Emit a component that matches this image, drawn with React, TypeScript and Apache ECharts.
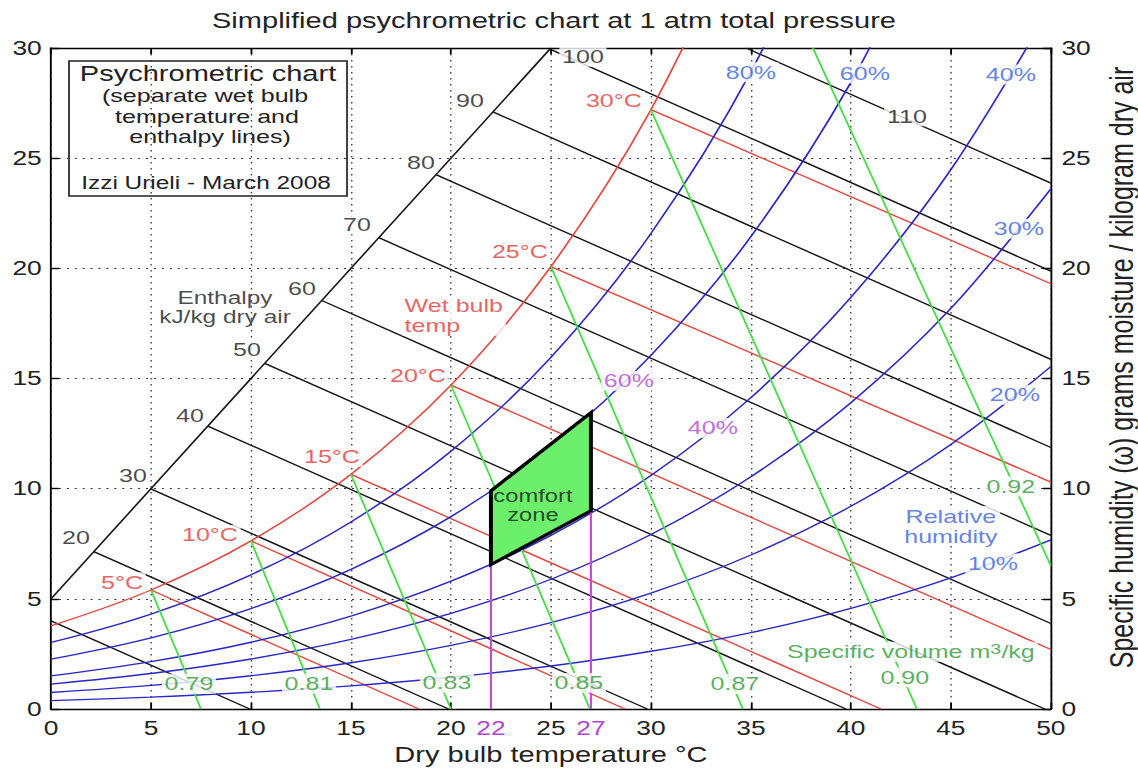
import React, { useEffect, useRef } from "react";
import * as echarts from "echarts";

// The reference image is horizontally stretched; we draw in unstretched space and scale X.
const STRETCH = 1.32;
const PAGE_W = 1138;
const PAGE_H = 769;
const FONT = "'Liberation Sans', Arial, Helvetica, sans-serif";

// ---------- DATA ----------
const dryBulb = [0, 5, 10, 15, 20, 25, 30, 35, 40, 45, 50];

// saturation (100 % RH) curve, g/kg
const saturation = [3.77, 5.4, 7.63, 10.65, 14.7, 20.08, 27.2, 36.58];
// relative humidity curves, g/kg
const rh80 = [3.02, 4.31, 6.09, 8.49, 11.7, 15.96, 21.58, 28.92, 38.5];
const rh60 = [2.26, 3.23, 4.56, 6.34, 8.73, 11.89, 16.05, 21.44, 28.44, 37.46];
const rh40 = [1.5, 2.15, 3.03, 4.22, 5.8, 7.88, 10.6, 14.13, 18.68, 24.48, 31.88];
const rh30 = [1.13, 1.61, 2.27, 3.16, 4.34, 5.89, 7.92, 10.54, 13.9, 18.18, 23.61];
const rh20 = [0.75, 1.07, 1.51, 2.1, 2.89, 3.92, 5.26, 6.99, 9.2, 12.01, 15.54];
const rh10 = [0.38, 0.54, 0.76, 1.05, 1.44, 1.95, 2.62, 3.47, 4.57, 5.95, 7.68];

// wet bulb lines (start on saturation, end on the frame)
const wetBulb5 = [[5, 5.4], [18.4, 0]];
const wetBulb10 = [[10, 7.63], [28.7, 0]];
const wetBulb15 = [[15, 10.65], [41.5, 0]];
const wetBulb20 = [[20, 14.7], [50, 2.7]];
const wetBulb25 = [[25, 20.08], [50, 10.3]];
const wetBulb30 = [[30, 27.2], [50, 19.3]];

// enthalpy lines kJ/kg
const enthalpyBase = [[0, 5], [25, 30]];
const enthalpy10 = [[0, 4.0], [9.94, 0]];
const enthalpy20 = [[2.14, 7.14], [19.88, 0]];
const enthalpy30 = [[4.99, 9.99], [29.82, 0]];
const enthalpy40 = [[7.84, 12.84], [39.76, 0]];
const enthalpy50 = [[10.69, 15.69], [49.7, 0]];
const enthalpy60 = [[13.54, 18.54], [50, 3.88]];
const enthalpy70 = [[16.39, 21.39], [50, 7.88]];
const enthalpy80 = [[19.25, 24.25], [50, 11.87]];
const enthalpy90 = [[22.1, 27.1], [50, 15.87]];
const enthalpy100 = [[24.95, 29.95], [50, 19.87]];
const enthalpy110 = [[34.76, 30], [50, 23.87]];

// specific volume lines m3/kg
const volume079 = [[5, 5.4], [7.5, 0]];
const volume081 = [[10, 7.63], [13.45, 0]];
const volume083 = [[15, 10.65], [20.0, 0]];
const volume085 = [[20, 14.7], [26.95, 0]];
const volume087 = [[25, 20.08], [34.6, 0]];
const volume090 = [[30, 27.2], [43.3, 0]];
const volume092 = [[38.1, 30], [50, 6.5]];

// comfort zone 22-27 C, 40-60 % RH
const comfortZone = [[22, 6.55], [22, 9.9], [27, 13.45], [27, 9.0]];
const comfortLeft = [[22, 0], [22, 6.55]];
const comfortRight = [[27, 0], [27, 9.0]];
const comfortTicks = [22, 27];

// text annotations: [dry bulb, humidity, text]
const enthalpyLabels: [number, number, string][] = [
  [1.25, 7.8, "20"], [4.1, 10.6, "30"], [6.95, 13.3, "40"], [9.8, 16.3, "50"],
  [12.55, 19.1, "60"], [15.3, 22.0, "70"], [18.5, 24.8, "80"], [20.95, 27.6, "90"],
  [26.6, 29.6, "100"], [42.8, 26.9, "110"],
];
const enthalpyTitle: [number, number, string][] = [[8.7, 18.25, "Enthalpy\nkJ/kg dry air"]];
const wetBulbLabels: [number, number, string][] = [
  [3.55, 5.75, "5°C"], [7.95, 7.9, "10°C"], [14.05, 11.45, "15°C"],
  [18.35, 15.15, "20°C"], [23.45, 20.75, "25°C"], [28.15, 27.6, "30°C"],
];
const wetBulbTitle: [number, number, string][] = [[17.55, 17.85, "Wet bulb\ntemp"]];
const volumeLabels: [number, number, string][] = [
  [6.9, 1.15, "0.79"], [12.9, 1.15, "0.81"], [19.8, 1.18, "0.83"], [26.4, 1.18, "0.85"],
  [34.2, 1.14, "0.87"], [42.7, 1.44, "0.90"], [48.0, 10.1, "0.92"],
];
const volumeTitle: [number, number, string][] = [[43.0, 2.6, "Specific volume m{sup|3}/kg"]];
const humidityLabels: [number, number, string][] = [
  [35.0, 28.9, "80%"], [40.7, 28.85, "60%"], [48.0, 28.8, "40%"], [48.4, 21.8, "30%"],
  [48.2, 14.26, "20%"], [47.1, 6.6, "10%"], [45.0, 8.3, "Relative\nhumidity"],
];
const comfortLabels: [number, number, string][] = [[28.9, 14.9, "60%"], [33.1, 12.75, "40%"]];
const comfortTitle: [number, number, string][] = [[24.1, 9.25, "comfort\nzone"]];

// ---------- STYLE ----------
const C_BLACK = "#151515";
const C_RED = "#e6443c";
const C_RED_TXT = "#e23a36";
const C_BLUE = "#2828c8";
const C_BLUE_TXT = "#3a62e0";
const C_GREEN = "#44dd44";
const C_GREEN_TXT = "#2f9a34";
const C_MAG = "#cc44e0";
const C_MAG_TXT = "#b146d4";

const zip = (ys: number[]) => ys.map((y, i) => [dryBulb[i], y]);

function line(data: number[][], color: string, width = 1.35, smooth = false, z = 2) {
  return {
    type: "line",
    data,
    xAxisIndex: 0,
    yAxisIndex: 0,
    symbol: "none",
    smooth: smooth ? 0.35 : false,
    clip: true,
    silent: true,
    z,
    lineStyle: { color, width },
  };
}

function labels(items: [number, number, string][], color: string, fontSize: number, opts: any = {}) {
  const { bg = true, align = "center", rich } = opts;
  return {
    type: "scatter",
    xAxisIndex: 0,
    yAxisIndex: 0,
    symbolSize: 1,
    silent: true,
    z: 20,
    itemStyle: { color: "rgba(0,0,0,0)" },
    data: items.map(([x, y, t]) => ({ value: [x, y], name: t })),
    label: {
      show: true,
      position: "inside",
      formatter: "{b}",
      color,
      fontSize,
      fontFamily: FONT,
      align,
      verticalAlign: "middle",
      lineHeight: fontSize + 1,
      backgroundColor: bg ? "#ffffff" : "transparent",
      padding: bg ? [0, 2, 0, 2] : 0,
      rich,
    },
  };
}

const axisLineStyle = { color: "#000", width: 1.4 };
const gridLineStyle = { color: "#333", width: 1, type: [1.5, 4.5] };

export default function App() {
  const ref = useRef<HTMLDivElement>(null);

  useEffect(() => {
    if (!ref.current) return;
    document.documentElement.style.overflow = "hidden";
    document.body.style.margin = "0";
    document.body.style.overflow = "hidden";
    const chart = echarts.init(ref.current, undefined, { renderer: "svg" });
    const S = STRETCH;
    const option: any = {
      animation: false,
      backgroundColor: "#ffffff",
      textStyle: { fontFamily: FONT },
      grid: {
        left: 51 / S, right: (PAGE_W - 1051) / S, top: 48, bottom: PAGE_H - 709,
        containLabel: false, outerBoundsMode: "none",
      },
      xAxis: [
        {
          type: "value", min: 0, max: 50, interval: 5, position: "bottom",
          axisLine: { show: true, onZero: false, lineStyle: axisLineStyle },
          axisTick: { show: true, inside: true, length: 6, lineStyle: axisLineStyle },
          axisLabel: { fontSize: 20, color: "#222", margin: 9, fontFamily: FONT },
          splitLine: { show: true, lineStyle: gridLineStyle },
          name: "Dry bulb temperature °C", nameLocation: "middle", nameGap: 32,
          nameTextStyle: { fontSize: 22, color: "#222", fontFamily: FONT },
        },
        {
          type: "value", min: 0, max: 50, interval: 5, position: "top",
          axisLine: { show: true, onZero: false, lineStyle: axisLineStyle },
          axisTick: { show: true, inside: true, length: 6, lineStyle: axisLineStyle },
          axisLabel: { show: false }, splitLine: { show: false },
        },
        {
          type: "value", min: 0, max: 50, position: "bottom",
          axisLine: { show: false }, axisTick: { show: false }, splitLine: { show: false },
          axisLabel: { show: true, customValues: comfortTicks, fontSize: 20, color: C_MAG_TXT, margin: 9, fontFamily: FONT },
        },
      ],
      yAxis: [
        {
          type: "value", min: 0, max: 30, interval: 5, position: "left",
          axisLine: { show: true, onZero: false, lineStyle: axisLineStyle },
          axisTick: { show: true, inside: true, length: 6, lineStyle: axisLineStyle },
          axisLabel: { fontSize: 20, color: "#222", margin: 7, fontFamily: FONT },
          splitLine: { show: true, lineStyle: gridLineStyle },
        },
        {
          type: "value", min: 0, max: 30, interval: 5, position: "right",
          axisLine: { show: true, onZero: false, lineStyle: axisLineStyle },
          axisTick: { show: true, inside: true, length: 6, lineStyle: axisLineStyle },
          axisLabel: { fontSize: 20, color: "#222", margin: 8, fontFamily: FONT },
          splitLine: { show: false },
          name: "Specific humidity (ω) grams moisture / kilogram dry air",
          nameLocation: "middle", nameRotate: 90, nameGap: 27,
          nameTextStyle: { fontSize: 25, lineHeight: 21, color: "#222", fontFamily: FONT, padding: [0, 0, 0, 22] },
        },
      ],
      graphic: [
        {
          type: "text", x: 554 / S, y: 20, z: 100,
          style: { text: "Simplified psychrometric chart at 1 atm total pressure", fontSize: 22, fontFamily: FONT, fill: "#222", align: "center", verticalAlign: "middle" },
        },
        {
          type: "group", z: 100,
          children: [
            { type: "rect", shape: { x: 69 / S, y: 61, width: 278 / S, height: 135 }, style: { fill: "#fff", stroke: "#222", lineWidth: 1.3 } },
            { type: "text", x: 208 / S, y: 73, style: { text: "Psychrometric chart", fontSize: 22, fontFamily: FONT, fill: "#222", align: "center", verticalAlign: "middle" } },
            { type: "text", x: 205 / S, y: 96, style: { text: "(separate wet bulb", fontSize: 19, fontFamily: FONT, fill: "#222", align: "center", verticalAlign: "middle" } },
            { type: "text", x: 207 / S, y: 117, style: { text: "temperature and", fontSize: 19, fontFamily: FONT, fill: "#222", align: "center", verticalAlign: "middle" } },
            { type: "text", x: 210 / S, y: 137, style: { text: "enthalpy lines)", fontSize: 19, fontFamily: FONT, fill: "#222", align: "center", verticalAlign: "middle" } },
            { type: "text", x: 206 / S, y: 183, style: { text: "Izzi Urieli - March 2008", fontSize: 18.5, fontFamily: FONT, fill: "#222", align: "center", verticalAlign: "middle" } },
          ],
        },
      ],
      series: [
        line(enthalpyBase, C_BLACK),
        line(enthalpy10, C_BLACK), line(enthalpy20, C_BLACK), line(enthalpy30, C_BLACK),
        line(enthalpy40, C_BLACK), line(enthalpy50, C_BLACK), line(enthalpy60, C_BLACK),
        line(enthalpy70, C_BLACK), line(enthalpy80, C_BLACK), line(enthalpy90, C_BLACK),
        line(enthalpy100, C_BLACK), line(enthalpy110, C_BLACK),
        line(wetBulb5, C_RED), line(wetBulb10, C_RED), line(wetBulb15, C_RED),
        line(wetBulb20, C_RED), line(wetBulb25, C_RED), line(wetBulb30, C_RED),
        line(zip(saturation), C_RED, 1.35, true),
        line(zip(rh80), C_BLUE, 1.35, true), line(zip(rh60), C_BLUE, 1.35, true),
        line(zip(rh40), C_BLUE, 1.35, true), line(zip(rh30), C_BLUE, 1.35, true),
        line(zip(rh20), C_BLUE, 1.35, true), line(zip(rh10), C_BLUE, 1.35, true),
        line(volume079, C_GREEN, 1.4), line(volume081, C_GREEN, 1.4), line(volume083, C_GREEN, 1.4),
        line(volume085, C_GREEN, 1.4), line(volume087, C_GREEN, 1.4), line(volume090, C_GREEN, 1.4),
        line(volume092, C_GREEN, 1.4),
        line(comfortLeft, C_MAG, 1.6, false, 4), line(comfortRight, C_MAG, 1.6, false, 4),
        {
          type: "custom", coordinateSystem: "cartesian2d", xAxisIndex: 0, yAxisIndex: 0,
          silent: true, z: 6, data: [comfortZone[0]],
          renderItem: (_p: any, api: any) => ({
            type: "polygon",
            shape: { points: comfortZone.map((p) => api.coord(p)) },
            style: { fill: "#6cf06c", stroke: "#000", lineWidth: 3, lineJoin: "miter" },
          }),
        },
        labels(enthalpyLabels, "#1a1a1a", 19),
        labels(enthalpyTitle, "#1a1a1a", 18.5, { bg: false }),
        labels(wetBulbLabels, C_RED_TXT, 19),
        labels(wetBulbTitle, C_RED_TXT, 19, { align: "left" }),
        labels(volumeLabels, C_GREEN_TXT, 19),
        labels(volumeTitle, C_GREEN_TXT, 19, { rich: { sup: { fontSize: 15, color: C_GREEN_TXT, verticalAlign: "top", lineHeight: 14, fontFamily: FONT } } }),
        labels(humidityLabels, C_BLUE_TXT, 19),
        labels(comfortLabels, C_MAG_TXT, 19),
        labels(comfortTitle, "#102010", 18, { bg: false }),
      ],
    };
    chart.setOption(option);
    return () => chart.dispose();
  }, []);

  return (
    <div
      style={{
        position: "fixed",
        left: 0,
        top: 0,
        width: PAGE_W + "px",
        height: PAGE_H + "px",
        overflow: "hidden",
        background: "#fff",
      }}
    >
      <div
        ref={ref}
        style={{
          position: "absolute",
          left: 0,
          top: 0,
          width: PAGE_W / STRETCH + "px",
          height: PAGE_H + "px",
          transform: `scaleX(${STRETCH})`,
          transformOrigin: "0 0",
        }}
      />
    </div>
  );
}
